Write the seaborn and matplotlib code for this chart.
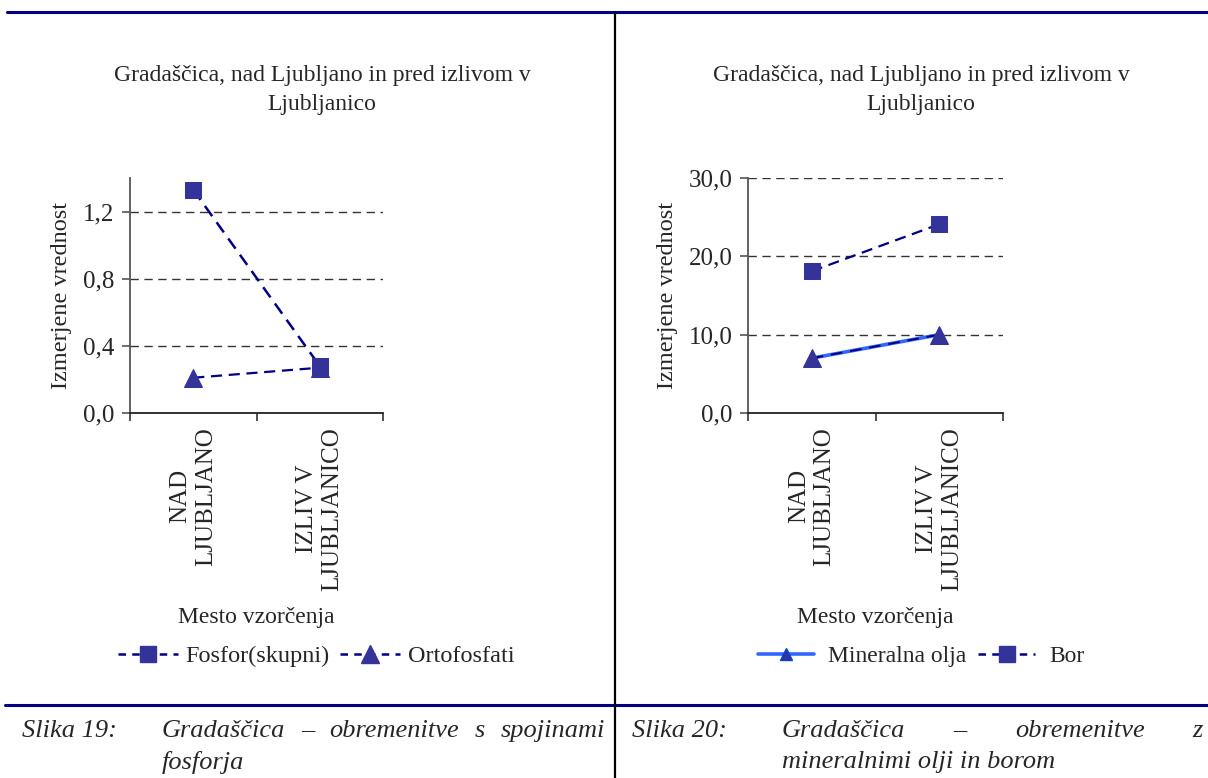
import matplotlib
matplotlib.use("Agg")
import matplotlib.pyplot as plt
from matplotlib.lines import Line2D
import numpy as np
import pandas as pd
import seaborn as sns

# Sampling sites and measured values
sites = ["NAD\nLJUBLJANO", "IZLIV V\nLJUBLJANICO"]
fosfor_skupni = [1.33, 0.28]
ortofosfati = [0.21, 0.27]
mineralna_olja = [7.0, 10.0]
bor = [18.1, 24.1]

title_text = "Gradaščica, nad Ljubljano in pred izlivom v\nLjubljanico"
ylabel_text = "Izmerjene vrednost"
xlabel_text = "Mesto vzorčenja"
left_yticks = [0.0, 0.4, 0.8, 1.2]
left_ytick_labels = ["0,0", "0,4", "0,8", "1,2"]
right_yticks = [0.0, 10.0, 20.0, 30.0]
right_ytick_labels = ["0,0", "10,0", "20,0", "30,0"]

sns.set_theme(style="white")
plt.rcParams["font.family"] = ["Liberation Serif", "DejaVu Serif"]

W, H = 1208, 778
fig = plt.figure(figsize=(W / 100, H / 100), dpi=100)
fig.patch.set_facecolor("white")

NAVY = "#000080"
MARK = "#333399"
LIGHT = "#3366FF"


def px(x, y):
    return x / W, 1 - y / H


def style_axes(ax, yticks, ylabels, ymax):
    ax.set_facecolor("white")
    ax.set_xlim(-0.5, 1.5)
    ax.set_ylim(0, ymax)
    for s in ("top", "right"):
        ax.spines[s].set_visible(False)
    ax.spines["left"].set_color("#555555")
    ax.spines["left"].set_linewidth(1.3)
    ax.spines["bottom"].set_color("#222222")
    ax.spines["bottom"].set_linewidth(1.3)
    ax.set_yticks(yticks)
    ax.set_yticklabels(ylabels, fontsize=18)
    for y in yticks[1:]:
        ax.axhline(y, color="#333333", lw=1.0, ls=(0, (6, 4)), zorder=0)
    ax.set_xticks([-0.5, 0.5, 1.5])
    ax.set_xticklabels(["", "", ""])
    ax.set_xticks([0, 1], minor=True)
    ax.set_xticklabels(sites, minor=True, rotation=90, fontsize=18,
                       va="top", ha="center", multialignment="center")
    ax.tick_params(axis="x", which="major", direction="out", length=6,
                   width=1.2, color="#333333", bottom=True)
    ax.tick_params(axis="x", which="minor", length=0, pad=10)
    ax.tick_params(axis="y", direction="out", length=6, width=1.2,
                   color="#555555", left=True, pad=5)
    ax.set_xlabel("")
    ax.set_ylabel(ylabel_text, fontsize=17.5, labelpad=8)


# Left panel: phosphorus compounds
ax1 = fig.add_axes([*px(130, 413), 253 / W, 235 / H])
df1 = pd.DataFrame({"site": sites, "Fosfor(skupni)": fosfor_skupni,
                    "Ortofosfati": ortofosfati})
sns.lineplot(data=df1, x="site", y="Ortofosfati", ax=ax1, color=NAVY,
             lw=1.6, marker="^", markersize=13, markerfacecolor=MARK,
             markeredgecolor=MARK, sort=False, label="Ortofosfati")
sns.lineplot(data=df1, x="site", y="Fosfor(skupni)", ax=ax1, color=NAVY,
             lw=1.8, marker="s", markersize=11, markerfacecolor=MARK,
             markeredgecolor=MARK, sort=False, label="Fosfor(skupni)")
for ln in ax1.get_lines():
    ln.set_dashes((5, 3))
style_axes(ax1, left_yticks, left_ytick_labels, 1.4)
ax1.get_legend().remove()

# Right panel: mineral oils and boron
ax2 = fig.add_axes([*px(748, 413), 255 / W, 235 / H])
df2 = pd.DataFrame({"site": sites, "Mineralna olja": mineralna_olja,
                    "Bor": bor})
sns.lineplot(data=df2, x="site", y="Mineralna olja", ax=ax2, color=LIGHT,
             lw=2.6, marker=None, sort=False, label="_mo_line")
sns.lineplot(data=df2, x="site", y="Mineralna olja", ax=ax2, color=NAVY,
             lw=1.4, marker="^", markersize=13, markerfacecolor=MARK,
             markeredgecolor=MARK, sort=False, label="_mo_dash",
             dashes=False)
ax2.get_lines()[-1].set_dashes((6, 4))
sns.lineplot(data=df2, x="site", y="Bor", ax=ax2, color=NAVY,
             lw=1.6, marker="s", markersize=11, markerfacecolor=MARK,
             markeredgecolor=MARK, sort=False, label="Bor")
ax2.get_lines()[-1].set_dashes((5, 3))
style_axes(ax2, right_yticks, right_ytick_labels, 30.0)
if ax2.get_legend() is not None:
    ax2.get_legend().remove()

# Titles and x labels as figure text
for cx, axc in ((322, 256), (921, 875)):
    fig.text(*px(cx, 90), title_text, ha="center", va="center",
             fontsize=17, linespacing=1.45)
    fig.text(*px(axc, 617), xlabel_text, ha="center", va="center",
             fontsize=17)

# Legends
fos_handle = Line2D([], [], color=NAVY, lw=1.8, ls=(0, (3, 2.5)), marker="s",
                    markersize=11, markerfacecolor=MARK, markeredgecolor=MARK)
ort_handle = Line2D([], [], color=NAVY, lw=1.8, ls=(0, (3, 2.5)), marker="^",
                    markersize=13, markerfacecolor=MARK, markeredgecolor=MARK)
fig.legend([fos_handle, ort_handle], ["Fosfor(skupni)", "Ortofosfati"],
           loc="center", bbox_to_anchor=px(316, 656), ncol=2, frameon=False,
           fontsize=17.5, handlelength=2.5, handletextpad=0.3,
           columnspacing=0.4)
mo_handle = Line2D([], [], color=LIGHT, lw=2.6, marker="^", markersize=9,
                   markerfacecolor=MARK, markeredgecolor="#0044DD")
bor_handle = Line2D([], [], color=NAVY, lw=1.8, ls=(0, (3, 2.5)), marker="s",
                    markersize=11, markerfacecolor=MARK, markeredgecolor=MARK)
fig.legend([mo_handle, bor_handle], ["Mineralna olja", "Bor"],
           loc="center", bbox_to_anchor=px(921, 656), ncol=2, frameon=False,
           fontsize=17, handlelength=2.4, handletextpad=0.6,
           columnspacing=0.5)

# Page rules
fig.add_artist(Line2D([7 / W, 1], [1 - 12 / H] * 2, color=NAVY, lw=2.2))
fig.add_artist(Line2D([5 / W, 1], [1 - 705 / H] * 2, color=NAVY, lw=2.2))
fig.add_artist(Line2D([615 / W] * 2, [1 - 12 / H, 0], color="black", lw=1.6))

# Figure captions, first line justified between given edges
cap_size = 19
fig.text(*px(22, 731), "Slika 19:", style="italic", fontsize=cap_size,
         va="center")
fig.text(*px(632, 731), "Slika 20:", style="italic", fontsize=cap_size,
         va="center")
fig.text(*px(162, 762), "fosforja", style="italic", fontsize=cap_size,
         va="center")
fig.text(*px(782, 762), "mineralnimi olji in borom", style="italic",
         fontsize=cap_size, va="center")

fig.canvas.draw()
renderer = fig.canvas.get_renderer()


def justify(words, x0, x1, y):
    texts = [fig.text(0, 1 - y / H, w, style="italic", fontsize=cap_size,
                      va="center") for w in words]
    widths = [t.get_window_extent(renderer).width for t in texts]
    gap = (x1 - x0 - sum(widths)) / (len(words) - 1)
    x = x0
    for t, wd in zip(texts, widths):
        t.set_x(x / W)
        x += wd + gap


justify(["Gradaščica", "–", "obremenitve", "s", "spojinami"], 162, 605, 731)
justify(["Gradaščica", "–", "obremenitve", "z"], 782, 1203, 731)

fig.savefig("out.png", dpi=100, facecolor="white")
